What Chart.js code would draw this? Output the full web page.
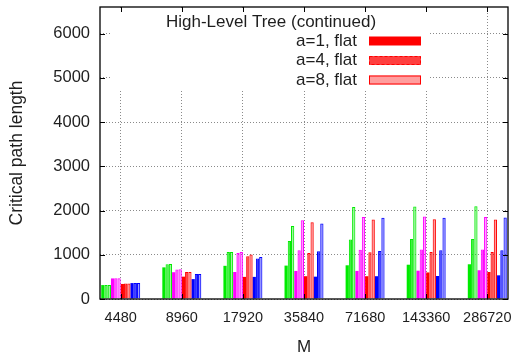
<!DOCTYPE html>
<html>
<head>
<meta charset="utf-8">
<script src="https://cdn.jsdelivr.net/npm/chart.js@4.4.1/dist/chart.umd.min.js"></script>
<style>
  html, body { margin: 0; padding: 0; background: #fff; }
  #wrap { width: 512px; height: 360px; }
</style>
</head>
<body>
<div id="wrap"><canvas id="pathChart" width="512" height="360"></canvas></div>
<script>
// M values (x categories)
const sizes = ['4480', '8960', '17920', '35840', '71680', '143360', '286720'];

// critical path length
const greenA1 = [315, 715, 750, 755, 762, 775, 785];
const greenA4 = [315, 785, 1060, 1310, 1345, 1355, 1355];
const greenA8 = [315, 792, 1065, 1650, 2080, 2090, 2095];
const magentaA1 = [465, 605, 610, 635, 635, 640, 650];
const magentaA4 = [468, 665, 1040, 1100, 1115, 1120, 1120];
const magentaA8 = [470, 670, 1060, 1780, 1855, 1865, 1855];
const redA1 = [340, 505, 500, 515, 515, 600, 610];
const redA4 = [348, 608, 965, 1040, 1055, 1060, 1065];
const redA8 = [350, 610, 1005, 1735, 1795, 1800, 1795];
const blueA1 = [360, 450, 500, 505, 515, 520, 535];
const blueA4 = [362, 563, 915, 1080, 1085, 1100, 1100];
const blueA8 = [362, 566, 950, 1705, 1835, 1835, 1840];

const yTicks = [0, 1000, 2000, 3000, 4000, 5000, 6000];

const keyTitle = 'High-Level Tree (continued)';

const FONT = "'Liberation Sans', Arial, sans-serif";
const TEXT = '#1e1e1e';

const rgb = {
    green: '0, 235, 0',
    magenta: '255, 0, 255',
    red: '255, 0, 0',
    blue: '0, 0, 255'
};
const fillAlpha = [1, 0.75, 0.38];

const series = [
    ['a=1, flat (green)', greenA1, 'green', 0],
    ['a=4, flat (green)', greenA4, 'green', 1],
    ['a=8, flat (green)', greenA8, 'green', 2],
    ['a=1, flat (magenta)', magentaA1, 'magenta', 0],
    ['a=4, flat (magenta)', magentaA4, 'magenta', 1],
    ['a=8, flat (magenta)', magentaA8, 'magenta', 2],
    ['a=1, flat', redA1, 'red', 0],
    ['a=4, flat', redA4, 'red', 1],
    ['a=8, flat', redA8, 'red', 2],
    ['a=1, flat (blue)', blueA1, 'blue', 0],
    ['a=4, flat (blue)', blueA4, 'blue', 1],
    ['a=8, flat (blue)', blueA8, 'blue', 2]
];
// only the red ones are in this key
const keyEntries = [6, 7, 8];

const datasets = series.map(([label, values, color, v]) => ({
    label: label,
    data: values.map((y, i) => ({ x: i, y: y })),
    backgroundColor: `rgba(${rgb[color]}, ${fillAlpha[v]})`,
    borderColor: `rgb(${rgb[color]})`,
    borderWidth: v === 0 ? 0 : 1,
    borderSkipped: 'bottom'
}));

const keyPlugin = {
    id: 'gnuKey',
    beforeDatasetsDraw(chart) {
        const ctx = chart.ctx;
        ctx.save();
        ctx.fillStyle = '#fff';
        ctx.fillRect(110, 8, 320, 82);
        ctx.fillStyle = TEXT;
        ctx.font = `17px ${FONT}`;
        ctx.textBaseline = 'middle';
        ctx.textAlign = 'center';
        ctx.fillText(keyTitle, 271, 22);
        ctx.textAlign = 'right';
        keyEntries.forEach((idx, row) => {
            const ds = chart.data.datasets[idx];
            const y = 41 + row * 19.5;
            ctx.fillStyle = TEXT;
            ctx.fillText(ds.label, 357, y);
            ctx.fillStyle = ds.backgroundColor;
            ctx.fillRect(369, y - 4.5, 52, 9);
            if (row > 0) {
                ctx.strokeStyle = ds.borderColor;
                ctx.lineWidth = 1;
                ctx.setLineDash(row === 1 ? [3, 2] : []);
                ctx.strokeRect(369.5, y - 4, 51, 8);
                ctx.setLineDash([]);
            }
        });
        ctx.restore();
    },
    afterDraw(chart) {
        const { ctx, chartArea: a, scales } = chart;
        ctx.save();
        ctx.strokeStyle = '#000';
        ctx.lineWidth = 1;
        ctx.beginPath();
        sizes.forEach((_, i) => {
            const px = Math.round(scales.x.getPixelForValue(i)) + 0.5;
            ctx.moveTo(px, a.top); ctx.lineTo(px, a.top + 5);
            ctx.moveTo(px, a.bottom); ctx.lineTo(px, a.bottom - 5);
        });
        yTicks.forEach(v => {
            const py = Math.round(scales.y.getPixelForValue(v)) + 0.5;
            ctx.moveTo(a.left, py); ctx.lineTo(a.left + 5, py);
            ctx.moveTo(a.right, py); ctx.lineTo(a.right - 5, py);
        });
        ctx.stroke();
        ctx.lineWidth = 1.3;
        ctx.strokeRect(a.left, a.top, a.right - a.left, a.bottom - a.top);
        ctx.restore();
    }
};

new Chart(document.getElementById('pathChart'), {
    type: 'bar',
    data: { datasets: datasets },
    plugins: [keyPlugin],
    options: {
        responsive: false,
        animation: false,
        devicePixelRatio: 1,
        layout: { padding: { left: 0, right: 4, top: 7, bottom: 0 } },
        datasets: {
            bar: { categoryPercentage: 0.638, barPercentage: 1.0 }
        },
        plugins: {
            legend: { display: false },
            tooltip: { enabled: false }
        },
        scales: {
            x: {
                type: 'linear',
                offset: false,
                min: -0.339,
                max: 6.339,
                afterBuildTicks: axis => {
                    axis.ticks = sizes.map((_, i) => ({ value: i }));
                },
                afterFit: scale => {
                    scale.height = 61;
                    scale.paddingLeft = 0;
                    scale.paddingRight = 0;
                },
                ticks: {
                    padding: 10,
                    color: TEXT,
                    font: { family: FONT, size: 14.5 },
                    maxRotation: 0,
                    autoSkip: false,
                    callback: value => sizes[value]
                },
                grid: { color: '#8a8a8a', drawTicks: false, offset: false },
                border: { display: false, dash: [1, 2] },
                title: {
                    display: true,
                    text: 'M',
                    color: TEXT,
                    font: { family: FONT, size: 17 },
                    padding: { top: 0, bottom: 2 }
                }
            },
            y: {
                min: 0,
                max: 6600,
                afterBuildTicks: axis => {
                    axis.ticks = yTicks.map(v => ({ value: v }));
                },
                afterFit: scale => {
                    scale.width = 100;
                    scale.paddingTop = 0;
                    scale.paddingBottom = 0;
                },
                ticks: {
                    padding: 10,
                    color: TEXT,
                    font: { family: FONT, size: 16.5 },
                    callback: value => String(value)
                },
                grid: { color: '#8a8a8a', drawTicks: false },
                border: { display: false, dash: [1, 2] },
                title: {
                    display: true,
                    text: 'Critical path length',
                    color: TEXT,
                    font: { family: FONT, size: 17.5 },
                    padding: { top: 7, bottom: 0 }
                }
            }
        }
    }
});
</script>
</body>
</html>
